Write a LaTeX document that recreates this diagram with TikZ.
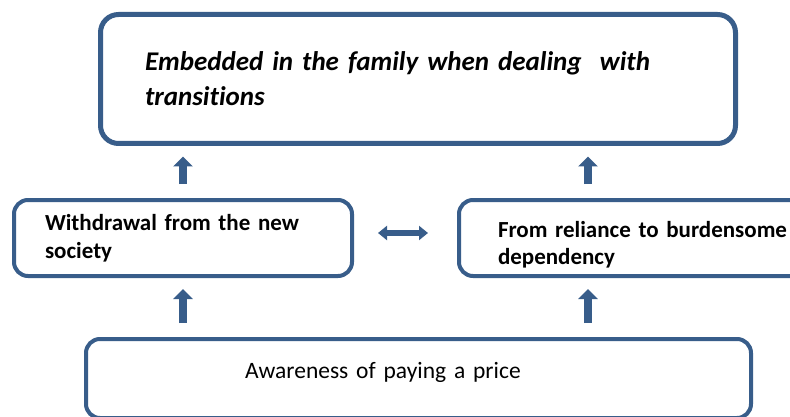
\documentclass[tikz,border=0pt]{standalone}
\usepackage{fontspec}
\setmainfont{Carlito}[Ligatures=CommonOff]
\usetikzlibrary{arrows.meta,positioning,calc}
\definecolor{boxblue}{RGB}{56,93,138}
\tikzstyle{bigbox}=[rectangle,rounded corners=18pt,draw=boxblue,line width=5pt,
fill=white,align=left,inner xsep=0pt]
\tikzstyle{smallbox}=[rectangle,rounded corners=14pt,draw=boxblue,line width=4pt,
fill=white,align=left,inner xsep=0pt]
\tikzstyle{uparrow}=[draw=boxblue,line width=8pt,-{Triangle[width=19pt,length=10pt]}]
\tikzstyle{bothway}=[draw=boxblue,line width=6pt,
{Triangle[width=14pt,length=9pt]}-{Triangle[width=14pt,length=9pt]}]

\begin{document}
\begin{tikzpicture}[x=1pt,y=-1pt]
            \useasboundingbox (0,0) rectangle (790,417);

            % TOP PART

            \node[bigbox,minimum width=635pt,minimum height=129pt,text width=546pt,
                font=\fontsize{27}{35}\selectfont\bfseries\itshape] (emb) at (418,79)
                {Embedded in the family when dealing\ \ with\\transitions};

            % MIDDLE PART

            \node[smallbox,minimum width=338pt,minimum height=76pt,text width=276pt,
                font=\fontsize{23}{28}\selectfont\bfseries] (wd) at (183,238)
                {Withdrawal from the new\\society};
            \node[smallbox,minimum width=398pt,minimum height=76pt,text width=320pt,
                font=\fontsize{23}{27}\selectfont\bfseries] (rel) at (658,238)
                {\rule{0pt}{29pt}From reliance to burdensome\\dependency};

            % BOTTOM PART

            \node[smallbox,minimum width=665pt,minimum height=79pt,text width=347pt,
                font=\fontsize{23.5}{29}\selectfont] (aw) at (418.5,378.5)
                {\rule[-16pt]{0pt}{16pt}Awareness of paying a price};

            % Arrows

            \coordinate (ra) at ([xshift=131pt]rel.north west);
            \coordinate (rb) at ([xshift=131pt]rel.south west);

            \draw[uparrow,shorten <=14pt,shorten >=10.5pt] (wd.north) -- (wd.north |- emb.south);
            \draw[uparrow,shorten <=14pt,shorten >=10.5pt] (ra) -- (ra |- emb.south);
            \draw[uparrow,shorten <=14pt,shorten >=11pt] (wd.south |- aw.north) -- (wd.south);
            \draw[uparrow,shorten <=14pt,shorten >=11pt] (rb |- aw.north) -- (rb);
            \draw[bothway,shorten <=24pt,shorten >=29pt] ([yshift=5pt]wd.east) -- ([yshift=5pt]wd.east -| rel.west);

        \end{tikzpicture}
\end{document}
